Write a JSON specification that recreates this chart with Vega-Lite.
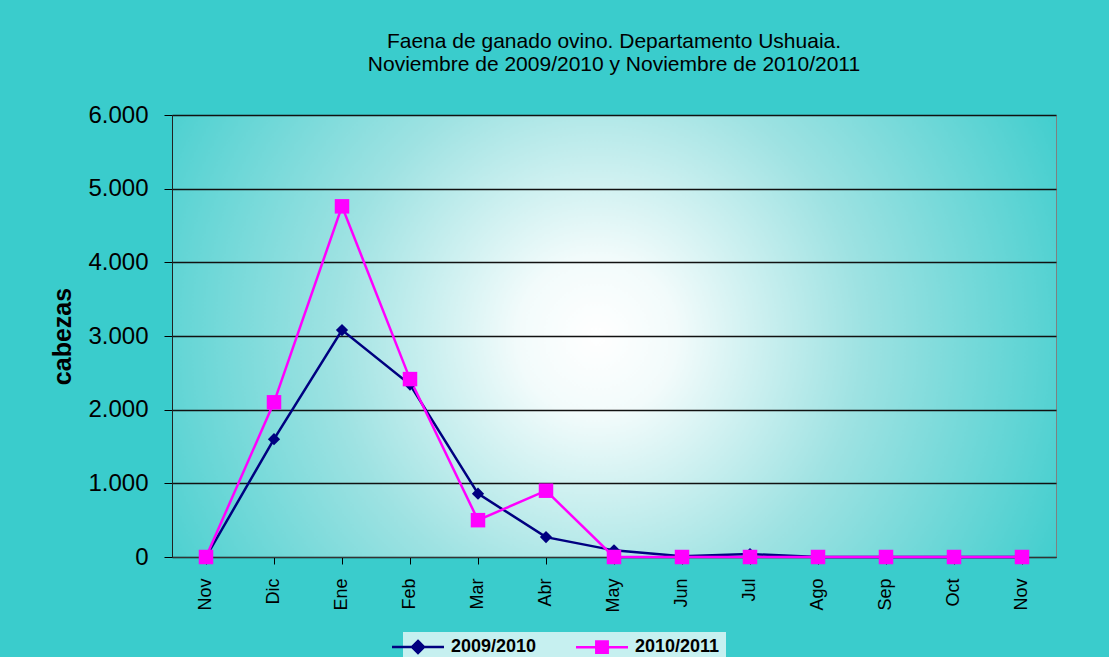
{
  "$schema": "https://vega.github.io/schema/vega-lite/v6.json",
  "width": 884,
  "height": 442,
  "autosize": "none",
  "padding": {"left": 172, "top": 115, "right": 53, "bottom": 100},
  "background": "#3acccc",
  "title": {
    "text": ["Faena de ganado ovino. Departamento Ushuaia.", "Noviembre de 2009/2010 y Noviembre de 2010/2011"],
    "font": "Liberation Sans",
    "fontSize": 21,
    "fontWeight": "normal",
    "color": "#000000",
    "lineHeight": 23,
    "anchor": "middle",
    "offset": 28
  },
  "data": {
    "values": [
      {"mes": "Nov 2009", "temporada": "2009/2010", "cabezas": 0},
      {"mes": "Dic 2009", "temporada": "2009/2010", "cabezas": 1600},
      {"mes": "Ene 2010", "temporada": "2009/2010", "cabezas": 3080},
      {"mes": "Feb 2010", "temporada": "2009/2010", "cabezas": 2340},
      {"mes": "Mar 2010", "temporada": "2009/2010", "cabezas": 860},
      {"mes": "Abr 2010", "temporada": "2009/2010", "cabezas": 270},
      {"mes": "May 2010", "temporada": "2009/2010", "cabezas": 90},
      {"mes": "Jun 2010", "temporada": "2009/2010", "cabezas": 10},
      {"mes": "Jul 2010", "temporada": "2009/2010", "cabezas": 40},
      {"mes": "Ago 2010", "temporada": "2009/2010", "cabezas": 0},
      {"mes": "Sep 2010", "temporada": "2009/2010", "cabezas": 0},
      {"mes": "Oct 2010", "temporada": "2009/2010", "cabezas": 0},
      {"mes": "Nov 2010", "temporada": "2009/2010", "cabezas": 0},
      {"mes": "Nov 2009", "temporada": "2010/2011", "cabezas": 0},
      {"mes": "Dic 2009", "temporada": "2010/2011", "cabezas": 2100},
      {"mes": "Ene 2010", "temporada": "2010/2011", "cabezas": 4760},
      {"mes": "Feb 2010", "temporada": "2010/2011", "cabezas": 2415},
      {"mes": "Mar 2010", "temporada": "2010/2011", "cabezas": 500},
      {"mes": "Abr 2010", "temporada": "2010/2011", "cabezas": 900},
      {"mes": "May 2010", "temporada": "2010/2011", "cabezas": 0},
      {"mes": "Jun 2010", "temporada": "2010/2011", "cabezas": 0},
      {"mes": "Jul 2010", "temporada": "2010/2011", "cabezas": 0},
      {"mes": "Ago 2010", "temporada": "2010/2011", "cabezas": 0},
      {"mes": "Sep 2010", "temporada": "2010/2011", "cabezas": 0},
      {"mes": "Oct 2010", "temporada": "2010/2011", "cabezas": 0},
      {"mes": "Nov 2010", "temporada": "2010/2011", "cabezas": 0}
    ]
  },
  "encoding": {
    "x": {
      "field": "mes",
      "type": "nominal",
      "sort": null,
      "scale": {"type": "band", "paddingInner": 0, "paddingOuter": 0},
      "axis": {
        "title": null,
        "labelAngle": -90,
        "labelExpr": "slice(datum.value, 0, 3)",
        "labelFont": "Liberation Sans",
        "labelFontSize": 18,
        "labelColor": "#000000",
        "labelPadding": 14,
        "tickSize": 7,
        "tickColor": "#000000",
        "domainColor": "#333333",
        "grid": false
      }
    },
    "y": {
      "field": "cabezas",
      "type": "quantitative",
      "scale": {"domain": [0, 6000], "nice": false},
      "axis": {
        "title": "cabezas",
        "titleFont": "Liberation Sans",
        "titleFontSize": 25,
        "titleFontWeight": "bold",
        "titleColor": "#000000",
        "titlePadding": 12,
        "values": [0, 1000, 2000, 3000, 4000, 5000, 6000],
        "labelExpr": "replace(format(datum.value, ','), ',', '.')",
        "labelFont": "Liberation Sans",
        "labelFontSize": 24,
        "labelColor": "#000000",
        "labelPadding": 16,
        "tickSize": 8,
        "tickColor": "#000000",
        "domainColor": "#222222",
        "gridColor": "#111111",
        "gridWidth": 1.3
      }
    },
    "color": {
      "field": "temporada",
      "type": "nominal",
      "scale": {"domain": ["2009/2010", "2010/2011"], "range": ["#000080", "#ff00ff"]},
      "legend": {
        "title": null,
        "orient": "none",
        "legendX": 231,
        "legendY": 517,
        "direction": "horizontal",
        "symbolType": "M-4.33,0L4.33,0M0,-1L1,0L0,1L-1,0Z",
        "symbolSize": 144,
        "symbolStrokeWidth": 2.5,
        "labelFont": "Liberation Sans",
        "labelFontSize": 18,
        "labelFontWeight": "bold",
        "labelColor": "#000000",
        "labelOffset": 24,
        "columnPadding": 34,
        "padding": 6,
        "fillColor": "#c6f0f0",
        "encode": {
          "symbols": {
            "update": {
              "shape": {"signal": "datum.value === '2009/2010' ? 'M-4.33,0L4.33,0M0,-1L1,0L0,1L-1,0Z' : 'M-4.33,0L4.33,0M-0.95,-0.95L0.95,-0.95L0.95,0.95L-0.95,0.95Z'"},
              "fill": {"signal": "datum.value === '2009/2010' ? '#000080' : '#ff00ff'"},
              "stroke": {"signal": "datum.value === '2009/2010' ? '#000080' : '#ff00ff'"}
            }
          }
        }
      }
    }
  },
  "layer": [
    {"mark": {"type": "line", "strokeWidth": 2.5}},
    {
      "transform": [{"filter": "datum.temporada === '2009/2010'"}],
      "mark": {"type": "point", "filled": true, "opacity": 1, "shape": "diamond", "size": 150}
    },
    {
      "transform": [{"filter": "datum.temporada === '2010/2011'"}],
      "mark": {"type": "point", "filled": true, "opacity": 1, "shape": "square", "size": 210}
    }
  ],
  "config": {
    "view": {
      "stroke": "#808080",
      "fill": {
        "gradient": "radial",
        "x1": 0.48, "y1": 0.5, "r1": 0,
        "x2": 0.48, "y2": 0.5, "r2": 0.6,
        "stops": [
          {"offset": 0, "color": "#ffffff"},
          {"offset": 0.15, "color": "#f2fbfb"},
          {"offset": 0.5, "color": "#9ee2e2"},
          {"offset": 1, "color": "#3acccc"}
        ]
      }
    }
  }
}
